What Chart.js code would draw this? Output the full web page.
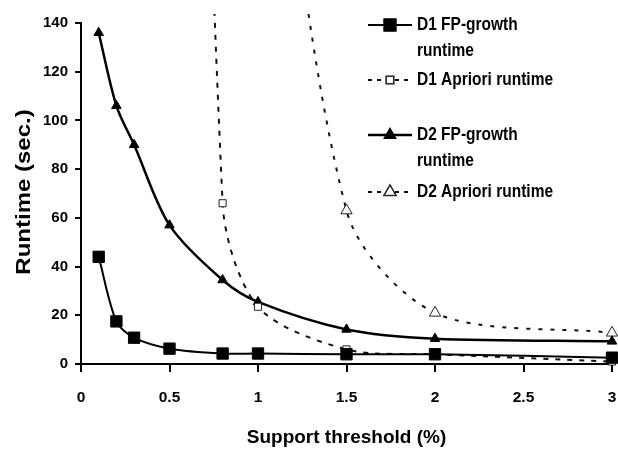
<!DOCTYPE html>
<html>
<head>
<meta charset="utf-8">
<script src="https://cdn.jsdelivr.net/npm/chart.js"></script>
<style>
  html, body { margin: 0; padding: 0; background: #fff; }
  #wrap { width: 618px; height: 451px; }
</style>
</head>
<body>
<div id="wrap"><canvas id="runtime-canvas" width="618" height="451"></canvas></div>
<script>
// support thresholds (%) and runtimes (sec.)
const support_fp       = [0.1, 0.2, 0.3, 0.5, 0.8, 1, 1.5, 2, 3];
const d1_fp_runtime    = [44, 17.5, 10.8, 6.3, 4.3, 4.3, 4, 4, 2.6];
const d2_fp_runtime    = [136, 106, 90, 57, 34.5, 25.5, 14.2, 10.4, 9.3];

const support_d1_apr   = [0.5, 0.8, 1, 1.5, 2, 3];
const d1_apr_runtime   = [800, 66, 23.5, 6, 4, 1];

const support_d2_apr   = [1, 1.5, 2, 3];
const d2_apr_runtime   = [300, 63, 21, 12.8];

const series_names = [
    ['D1 FP-growth', 'runtime'],
    ['D1 Apriori runtime'],
    ['D2 FP-growth', 'runtime'],
    ['D2 Apriori runtime']
];

const x_ticks = [0, 0.5, 1, 1.5, 2, 2.5, 3];
const y_ticks = [0, 20, 40, 60, 80, 100, 120, 140];

const FONT = "'Liberation Sans', Arial, sans-serif";

function toPoints(xs, ys) {
    return xs.map((x, i) => ({ x: x, y: ys[i] }));
}

const clip_area = { left: 2, top: 9, right: 12, bottom: 8 };

const chart_data = {
    datasets: [
        {
            label: series_names[0].join(' '),
            data: toPoints(support_fp, d1_fp_runtime),
            borderColor: '#000',
            backgroundColor: '#000',
            borderWidth: 2,
            pointStyle: 'rect',
            pointRadius: 8,
            pointBorderWidth: 1,
            pointBackgroundColor: '#000',
            tension: 0.3,
            clip: clip_area
        }, {
            label: series_names[1].join(' '),
            data: toPoints(support_d1_apr, d1_apr_runtime),
            borderColor: '#111',
            backgroundColor: '#fff',
            borderWidth: 2,
            borderDash: [5, 7],
            pointStyle: 'rect',
            pointRadius: 5,
            pointBorderWidth: 1,
            pointBorderColor: '#222',
            pointBackgroundColor: '#fff',
            tension: 0.3,
            clip: clip_area
        }, {
            label: series_names[2].join(' '),
            data: toPoints(support_fp, d2_fp_runtime),
            borderColor: '#000',
            backgroundColor: '#000',
            borderWidth: 2.5,
            pointStyle: 'triangle',
            pointRadius: 5.5,
            pointBorderWidth: 1,
            pointBackgroundColor: '#000',
            tension: 0.3,
            clip: clip_area
        }, {
            label: series_names[3].join(' '),
            data: toPoints(support_d2_apr, d2_apr_runtime),
            borderColor: '#111',
            backgroundColor: '#fff',
            borderWidth: 2,
            borderDash: [4, 8],
            pointStyle: 'triangle',
            pointRadius: 6.5,
            pointBorderWidth: 1,
            pointBorderColor: '#222',
            pointBackgroundColor: '#fff',
            tension: 0.3,
            clip: clip_area
        }
    ]
};

// legend and y title are drawn by hand (two-line labels, stretched text)
const figurePlugin = {
    id: 'figurePlugin',
    afterDraw: (chart) => {
        const ctx = chart.ctx;

        // y axis title
        ctx.save();
        ctx.translate(30, 192);
        ctx.rotate(-Math.PI / 2);
        ctx.scale(1.2, 1);
        ctx.font = 'bold 20px ' + FONT;
        ctx.fillStyle = '#000';
        ctx.textAlign = 'center';
        ctx.textBaseline = 'alphabetic';
        ctx.fillText('Runtime (sec.)', 0, 0);
        ctx.restore();

        // legend
        const rows = [25, 80, 135, 192];
        const line_h = 26;
        const x0 = 368, x1 = 412, xm = 390, xt = 417;

        chart.data.datasets.forEach((ds, i) => {
            const y = rows[i];
            ctx.save();
            ctx.strokeStyle = ds.borderColor;
            ctx.lineWidth = ds.borderWidth;
            ctx.setLineDash(ds.borderDash ? [4, 5] : []);
            ctx.beginPath();
            ctx.moveTo(x0, y);
            ctx.lineTo(x1, y);
            ctx.stroke();
            ctx.setLineDash([]);
            Chart.helpers.drawPoint(ctx, {
                pointStyle: ds.pointStyle,
                radius: ds.pointRadius,
                borderWidth: ds.pointBorderWidth,
                rotation: 0
            }, xm, y);
            ctx.fillStyle = ds.pointBackgroundColor;
            ctx.strokeStyle = ds.pointBorderColor || '#000';
            ctx.lineWidth = ds.pointBorderWidth;
            ctx.fill();
            ctx.stroke();

            // stretch text vertically like the scanned figure
            ctx.fillStyle = '#000';
            ctx.font = 'bold 15.5px ' + FONT;
            ctx.textAlign = 'left';
            ctx.textBaseline = 'middle';
            series_names[i].forEach((txt, k) => {
                ctx.save();
                ctx.translate(xt, y + k * line_h);
                ctx.scale(1, 1.15);
                ctx.fillText(txt, 0, 0);
                ctx.restore();
            });
            ctx.restore();
        });
    }
};

const ctx = document.getElementById('runtime-canvas').getContext('2d');

const runtime_chart = new Chart(ctx, {
    type: 'line',
    data: chart_data,
    options: {
        responsive: false,
        animation: false,
        layout: {
            autoPadding: false,
            padding: { top: 23, right: 6, left: 0, bottom: 0 }
        },
        plugins: {
            legend: { display: false },
            tooltip: { enabled: false }
        },
        scales: {
            x: {
                type: 'linear',
                min: 0,
                max: 3,
                afterBuildTicks: (scale) => {
                    scale.ticks = x_ticks.map(v => ({ value: v }));
                },
                afterFit: (scale) => {
                    scale.height = 87;
                    scale.paddingRight = 0;
                    scale.paddingLeft = 0;
                },
                border: { display: true, color: '#000', width: 2 },
                grid: {
                    display: true,
                    drawOnChartArea: false,
                    drawTicks: true,
                    tickLength: 8,
                    color: '#000',
                    lineWidth: 2
                },
                ticks: {
                    color: '#000',
                    padding: 16,
                    maxRotation: 0,
                    font: { family: FONT, size: 15.5, weight: 'bold' },
                    callback: (v) => String(v)
                },
                title: {
                    display: true,
                    text: 'Support threshold (%)',
                    color: '#000',
                    padding: { top: 0, bottom: 2 },
                    font: { family: FONT, size: 19, weight: 'bold' }
                }
            },
            y: {
                min: 0,
                max: 140,
                afterBuildTicks: (scale) => {
                    scale.ticks = y_ticks.map(v => ({ value: v }));
                },
                afterFit: (scale) => { scale.width = 81; },
                border: { display: true, color: '#000', width: 2 },
                grid: {
                    display: true,
                    drawOnChartArea: false,
                    drawTicks: true,
                    tickLength: 6,
                    color: '#000',
                    lineWidth: 2
                },
                ticks: {
                    color: '#000',
                    padding: 7,
                    font: { family: FONT, size: 15, weight: 'bold' }
                },
                title: { display: false }
            }
        }
    },
    plugins: [figurePlugin]
});
</script>
</body>
</html>
